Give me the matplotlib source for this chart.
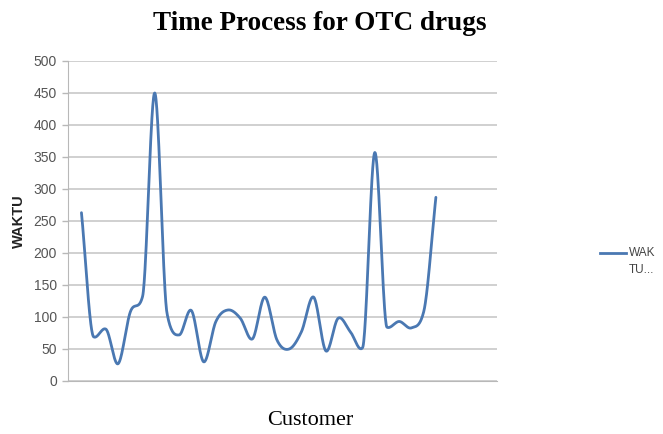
import numpy as np
import matplotlib
matplotlib.use("Agg")
import matplotlib.pyplot as plt
from matplotlib.lines import Line2D

# waiting time per customer
customers = list(range(1, 31))
waktu = [263, 69, 81, 27, 108, 132, 450, 106, 72, 110,
         30, 93, 111, 98, 66, 131, 64, 50, 77, 131,
         47, 98, 77, 52, 357, 84, 93, 83, 108, 287]
yticks = list(range(0, 501, 50))

BLUE = "#4a78b2"


def smooth(x, y, steps=30):
    # hermite curve through every point, catmull-rom slopes clamped so the
    # curve doesn't swing far past the points
    x = np.asarray(x, float)
    y = np.asarray(y, float)
    sl = np.diff(y) / np.diff(x)
    m = np.empty_like(y)
    m[0], m[-1] = sl[0], sl[-1]
    for i in range(1, len(y) - 1):
        a, b = sl[i - 1], sl[i]
        avg = (a + b) / 2
        lim = min(abs(a), abs(b)) * (3 if a * b > 0 else 1)
        m[i] = np.sign(avg) * min(abs(avg), lim)
    xs, ys = [], []
    t = np.linspace(0, 1, steps, endpoint=False)
    for i in range(len(y) - 1):
        h = x[i + 1] - x[i]
        h00 = 2 * t ** 3 - 3 * t ** 2 + 1
        h10 = t ** 3 - 2 * t ** 2 + t
        h01 = -2 * t ** 3 + 3 * t ** 2
        h11 = t ** 3 - t ** 2
        xs.extend(x[i] + h * t)
        ys.extend(h00 * y[i] + h10 * h * m[i] + h01 * y[i + 1] + h11 * h * m[i + 1])
    xs.append(x[-1])
    ys.append(y[-1])
    return np.array(xs), np.array(ys)


fig = plt.figure(figsize=(6.63, 4.34), dpi=100)
ax = fig.add_axes([68 / 663, 53 / 434, 429 / 663, 320 / 434])
ax.set_xlim(-0.1, 35.0)
ax.set_ylim(0, 500)

sx, sy = smooth(customers, waktu)
ax.plot(sx, sy, color=BLUE, lw=2.0, solid_capstyle="round")

ax.set_yticks(yticks)
ax.set_xticks([])
ax.tick_params(axis="y", length=4, width=1, color="#b8b8b8", pad=4,
               labelsize=10, labelcolor="#555555")
for lbl in ax.get_yticklabels():
    lbl.set_family("Liberation Sans")
ax.grid(axis="y", color="#c4c4c4", lw=1.1)
ax.set_axisbelow(True)
for side in ("top", "right"):
    ax.spines[side].set_visible(False)
ax.spines["left"].set_color("#b8b8b8")
ax.spines["bottom"].set_color("#b8b8b8")

fig.text(19 / 663, 1 - 221 / 434, "WAKTU", rotation=90, ha="center", va="center",
         fontsize=10.5, fontweight="bold", family="Liberation Sans", color="#222222")

fig.text(0.483, 0.945, "Time Process for OTC drugs", ha="center", va="center",
         fontsize=19.5, fontweight="bold", family="Liberation Serif")
fig.text(0.468, 0.032, "Customer", ha="center", va="center",
         fontsize=16, family="Liberation Serif")

# legend, squeezed against the right edge
fig.add_artist(Line2D([600 / 663, 626 / 663], [1 - 253 / 434, 1 - 253 / 434],
                      color=BLUE, lw=2.0))
fig.text(629 / 663, 1 - 253 / 434, "WAK", ha="left", va="center",
         fontsize=8.5, family="Liberation Sans", color="#444444")
fig.text(629 / 663, 1 - 270 / 434, "TU...", ha="left", va="center",
         fontsize=8.5, family="Liberation Sans", color="#444444")

fig.savefig("out.png", dpi=100)
